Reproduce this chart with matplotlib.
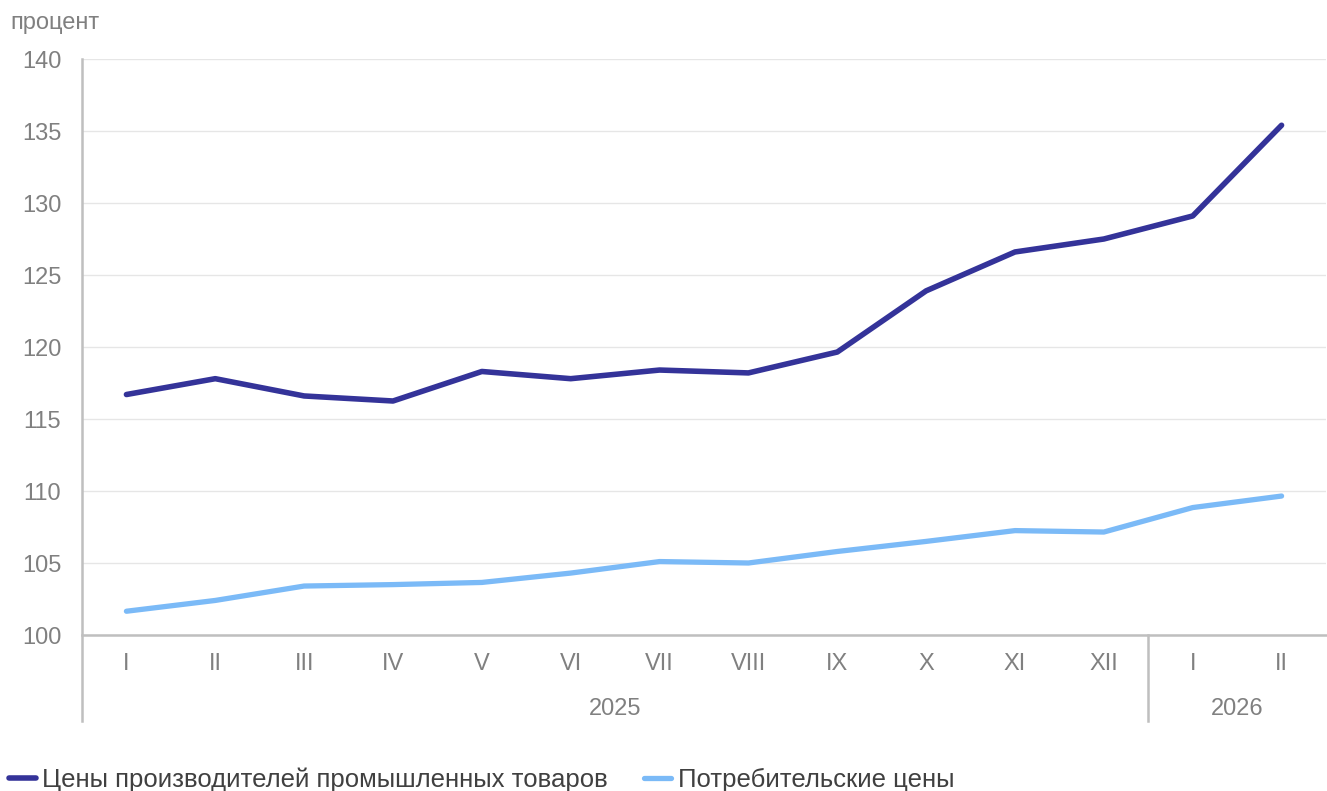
import numpy as np
import matplotlib.pyplot as plt
import matplotlib.transforms as mtransforms

months = ['I', 'II', 'III', 'IV', 'V', 'VI', 'VII', 'VIII', 'IX', 'X', 'XI', 'XII', 'I', 'II']
years = ['2025', '2026']
year_sizes = [12, 2]

producer = [116.7, 117.8, 116.6, 116.25, 118.3, 117.8, 118.4, 118.2, 119.65,
            123.9, 126.6, 127.5, 129.1, 135.4]
consumer = [101.65, 102.4, 103.4, 103.5, 103.65, 104.3, 105.1, 105.0, 105.8,
            106.5, 107.25, 107.15, 108.85, 109.65]

names = ['Цены производителей промышленных товаров', 'Потребительские цены']
colors = ['#343399', '#7bbaf7']

plt.rcParams['font.family'] = ['Liberation Sans', 'DejaVu Sans']
grey = '#808080'
axis_grey = '#bfbfbf'
fs = 17

fig = plt.figure(figsize=(13.27, 7.91), dpi=100)
ax = fig.add_axes([82 / 1327, 1 - 635 / 791, 1244 / 1327, 576 / 791])

x = np.arange(len(months))
ax.plot(x, producer, color=colors[0], lw=4, solid_capstyle='round',
        solid_joinstyle='round', label=names[0], zorder=3)
ax.plot(x, consumer, color=colors[1], lw=3.8, solid_capstyle='round',
        solid_joinstyle='round', label=names[1], zorder=3)

ax.set_xlim(-0.5, len(months) - 0.5)
ax.set_ylim(100, 140)
ax.set_yticks(np.arange(100, 141, 5))
ax.grid(axis='y', color='#e6e6e6', lw=1)
ax.set_axisbelow(True)

for s in ['top', 'right', 'left']:
    ax.spines[s].set_visible(False)
ax.spines['bottom'].set_color(axis_grey)
ax.spines['bottom'].set_linewidth(1.8)

ax.set_xticks(x)
ax.set_xticklabels(months)
ax.tick_params(axis='x', length=0, pad=13, labelsize=fs, labelcolor=grey)
ax.tick_params(axis='y', length=0, pad=15, labelsize=fs, labelcolor=grey)

# category group separators and year labels
trans = mtransforms.blended_transform_factory(ax.transData, ax.transAxes)
low = -(721 - 635) / 576
bounds = np.concatenate([[0], np.cumsum(year_sizes)]) - 0.5
ax.plot([bounds[0], bounds[0]], [1, low], color=axis_grey, lw=1.8,
        transform=trans, clip_on=False)
for b in bounds[1:-1]:
    ax.plot([b, b], [0, low], color=axis_grey, lw=1.8, transform=trans, clip_on=False)
for i, yr in enumerate(years):
    ax.text((bounds[i] + bounds[i + 1]) / 2, -(709 - 635) / 576, yr, transform=trans,
            ha='center', va='center', fontsize=fs, color=grey)

fig.text(10 / 1327, 1 - 23 / 791, 'процент', ha='left', va='center',
         fontsize=fs, color=grey)

fig.legend(loc='center left', bbox_to_anchor=(9 / 1327, 1 - 780 / 791), ncol=2,
           frameon=False, fontsize=18.5, labelcolor='#404040', handlelength=1.05,
           handletextpad=0.25, columnspacing=1.4, borderpad=0, borderaxespad=0)

fig.savefig('out.png', dpi=100)
